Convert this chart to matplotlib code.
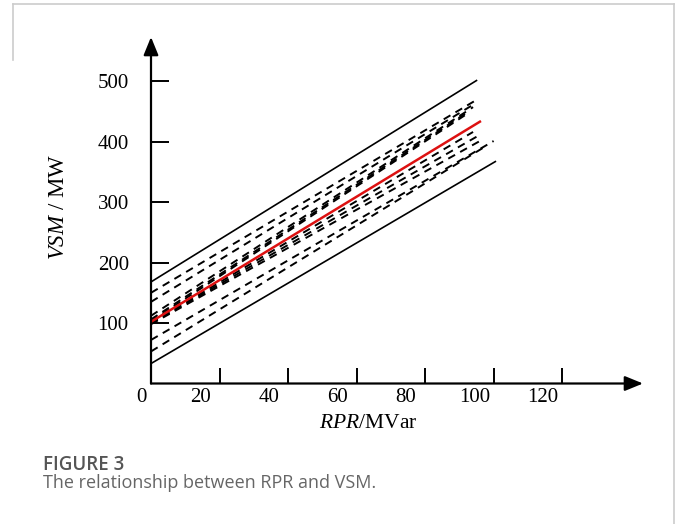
import numpy as np
import matplotlib
matplotlib.use('Agg')
import matplotlib.pyplot as plt
from matplotlib.transforms import offset_copy

plt.rcParams['font.family'] = 'Liberation Serif'
plt.rcParams['mathtext.fontset'] = 'custom'
plt.rcParams['mathtext.rm'] = 'Liberation Serif'
plt.rcParams['mathtext.it'] = 'Liberation Serif:italic'

# data: each line is (x0, y0) -> (x1, y1)
solid_x0 = [0, 0]
solid_y0 = [168, 33]
solid_x1 = [95, 100.5]
solid_y1 = [501, 367]

red_x = [0, 96]
red_y = [102, 433]

dash_x0 = [0, 0, 0, 0, 0, 0, 0, 0, 0, 0]
dash_y0 = [150, 135, 112, 106, 103, 100, 99, 98, 72, 53]
dash_x1 = [95, 94, 94, 93, 92, 94, 95, 96, 100, 97]
dash_y1 = [469, 461, 457, 451, 445, 416, 408, 401, 401, 390]

xticks = [20, 40, 60, 80, 100, 120]
yticks = [100, 200, 300, 400, 500]

fig = plt.figure(figsize=(6.8, 5.24), dpi=100)

# light frame around the panel
fig.add_artist(plt.Line2D([13/680, 674/680], [1 - 4/524, 1 - 4/524], color='#cccccc', lw=1.2))
fig.add_artist(plt.Line2D([13/680, 13/680], [1 - 4/524, 1 - 60/524], color='#cccccc', lw=1.2))
fig.add_artist(plt.Line2D([674/680, 674/680], [1 - 4/524, 0], color='#cccccc', lw=1.2))

ax = fig.add_axes([151/680, (524 - 383.5)/524, (643 - 151)/680, (383.5 - 37)/524])
xmax, ymax = 143.6, 573
ax.set_xlim(0, xmax)
ax.set_ylim(0, ymax)
for s in ax.spines.values():
    s.set_visible(False)

# axes with arrow heads
ax.annotate('', xy=(xmax, 0), xytext=(0, 0), annotation_clip=False,
            arrowprops=dict(arrowstyle='-|>,head_length=1.1,head_width=0.45', color='black', lw=1.6, shrinkA=0, shrinkB=0))
ax.annotate('', xy=(0, ymax), xytext=(0, 0), annotation_clip=False,
            arrowprops=dict(arrowstyle='-|>,head_length=1.1,head_width=0.45', color='black', lw=1.6, shrinkA=0, shrinkB=0))

for i in range(len(solid_x0)):
    ax.plot([solid_x0[i], solid_x1[i]], [solid_y0[i], solid_y1[i]], color='black', lw=1.2)
for i in range(len(dash_x0)):
    ax.plot([dash_x0[i], dash_x1[i]], [dash_y0[i], dash_y1[i]], color='black', lw=1.4, ls=(0, (4, 3)))
ax.plot(red_x, red_y, color='#dd1111', lw=1.8)

ax.set_xticks(xticks)
ax.set_xticklabels([str(v) for v in xticks])
ax.set_yticks(yticks)
ax.set_yticklabels([str(v) for v in yticks])
ax.tick_params(axis='x', direction='in', length=11.5, width=1.4, labelsize=15, pad=3)
ax.tick_params(axis='y', direction='in', length=13, width=1.4, labelsize=15, pad=16)
# tick labels in the picture sit to the left of their ticks
for lab in ax.get_xticklabels():
    lab.set_transform(offset_copy(lab.get_transform(), fig=fig, x=-19, units='dots'))
ax.text(0, 0, '0', transform=offset_copy(ax.transData, fig=fig, x=-10, y=-5, units='dots'),
        ha='center', va='top', fontsize=15)

ax.set_xlabel(r'$\mathit{RPR}$/MVar', fontsize=15.5)
ax.xaxis.set_label_coords((368 - 151) / 492, (383.5 - 423) / 346.5)
ax.xaxis.label.set_va('center')
fig.text(58/680, 1 - 207/524, r'$\mathit{VSM}$ / MW', rotation=90, ha='center', va='center', fontsize=16.5)

fig.text(43/680, 1 - 465/524, 'FIGURE 3', fontfamily='Open Sans', fontweight='semibold',
         color='#555555', fontsize=13.5, va='center', ha='left')
fig.text(43/680, 1 - 483/524, 'The relationship between RPR and VSM.', fontfamily='Open Sans',
         color='#666666', fontsize=13, va='center', ha='left')

fig.savefig('out.png', dpi=100)
